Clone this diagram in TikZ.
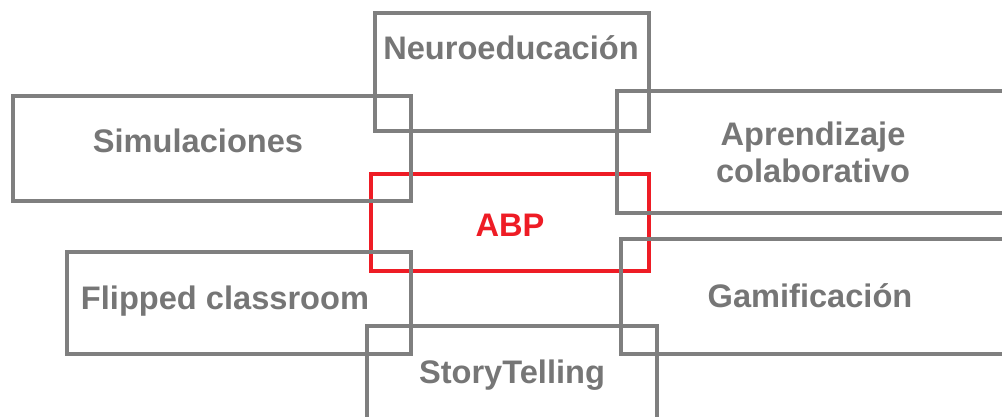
\documentclass[tikz,border=0pt]{standalone}
\usepackage{fontspec}
\setmainfont{Liberation Sans}
\definecolor{boxgray}{HTML}{7F7F7F}
\definecolor{txtgray}{HTML}{767676}
\definecolor{abpred}{HTML}{EE1C25}
\begin{document}
\begin{tikzpicture}[x=1pt,y=-1pt,
  box/.style={draw=boxgray,line width=4pt,inner sep=0pt,minimum width=#1},
  redbox/.style={draw=abpred,line width=4pt,inner sep=0pt},
  lbl/.style={text=txtgray,font=\fontsize{32.6}{37}\selectfont\bfseries,align=center,inner sep=0pt},
  redlbl/.style={text=abpred,font=\fontsize{32.6}{37}\selectfont\bfseries,inner sep=0pt}]
\useasboundingbox (0,0) rectangle (1002,416);
\clip (0,0) rectangle (1002,416);
% ABP (drawn first)
\node[redbox,minimum width=278pt,minimum height=97pt] (abp) at (510,222.5) {};
\node[redlbl] (abpt) at (510,225) {ABP};
% gray boxes
\node[box=274pt,minimum height=118pt] (neuro) at (512,72) {};
\node[box=398pt,minimum height=105pt] (simu) at (212,148.5) {};
\node[box=420pt,minimum height=122pt] (apre) at (827,152) {};
\node[box=344pt,minimum height=102pt] (flip) at (239,303) {};
\node[box=290pt,minimum height=130pt] (story) at (512,391) {};
\node[box=420pt,minimum height=115pt] (gami) at (831,296.5) {};
% labels
\node[lbl] (neurot) at (511,48) {Neuroeducación};
\node[lbl] (simut) at (198,141) {Simulaciones};
\node[lbl] (apret) at (813,152) {Aprendizaje\\colaborativo};
\node[lbl] (flipt) at (225,301) {Flipped classroom};
\node[lbl] (storyt) at (512,375) {StoryTelling};
\node[lbl] (gamit) at (810,296) {Gamificación};
\end{tikzpicture}
\end{document}
